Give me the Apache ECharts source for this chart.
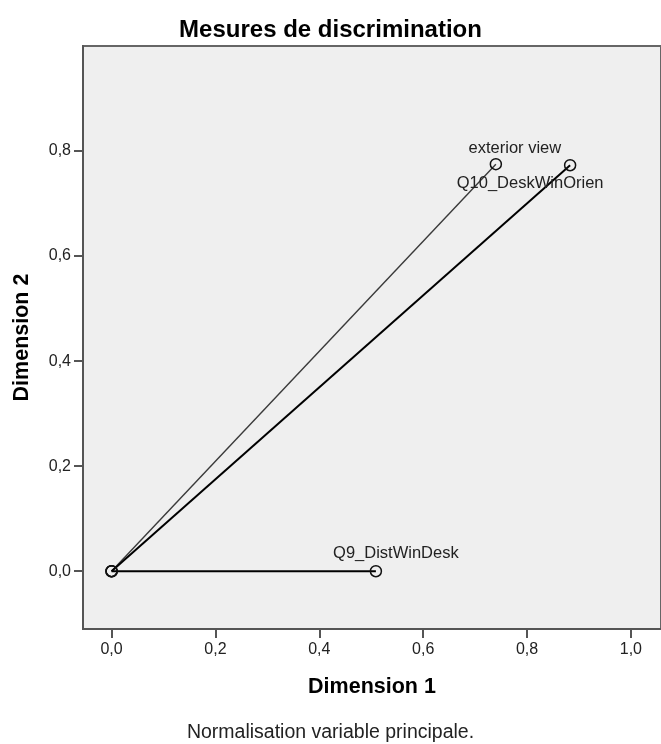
<!DOCTYPE html>
<html>
<head>
<meta charset="utf-8">
<script src="https://cdn.jsdelivr.net/npm/echarts@6/dist/echarts.min.js"></script>
<style>
html,body{margin:0;padding:0;background:#fff;}
#chart{width:661px;height:744px;}
</style>
</head>
<body>
<div id="chart"></div>
<script>
// Data
const variables = ['exterior view', 'Q10_DeskWinOrien', 'Q9_DistWinDesk'];
const dim1 = [0.740, 0.883, 0.509];
const dim2 = [0.775, 0.773, 0.000];
const xTicks = [0, 0.2, 0.4, 0.6, 0.8, 1.0];
const yTicks = [0, 0.2, 0.4, 0.6, 0.8];

// Styles (not data)
const lineWidths = [1.4, 2, 2];
const lineColors = ['#3a3a3a', '#000', '#000'];
const labelOffsets = [[19, -16], [-40, 18], [20, -18]];

const FONT = 'Liberation Sans, Arial, sans-serif';
const fmt = v => v.toFixed(1).replace('.', ',');

const series = variables.map((name, i) => ({
  type: 'line',
  name: name,
  symbol: 'circle',
  symbolSize: 11,
  showAllSymbol: true,
  itemStyle: { color: 'rgba(0,0,0,0)', borderColor: '#111', borderWidth: 1.5 },
  lineStyle: { color: lineColors[i], width: lineWidths[i] },
  emphasis: { disabled: true },
  z: 3 + i,
  data: [
    { value: [0, 0], label: { show: false } },
    {
      value: [dim1[i], dim2[i]],
      label: {
        show: true,
        formatter: name,
        position: 'inside',
        offset: labelOffsets[i],
        color: '#222',
        fontFamily: FONT,
        fontSize: 16.5
      }
    }
  ]
}));

const chart = echarts.init(document.getElementById('chart'), null, { renderer: 'canvas' });
chart.setOption({
  animation: false,
  backgroundColor: '#fff',
  title: [
    {
      text: 'Mesures de discrimination',
      left: 'center',
      top: 13,
      textStyle: { fontFamily: FONT, fontWeight: 'bold', fontSize: 24, color: '#000' }
    },
    {
      text: 'Normalisation variable principale.',
      left: 'center',
      top: 718,
      textStyle: { fontFamily: FONT, fontWeight: 'normal', fontSize: 19.5, color: '#222' }
    }
  ],
  grid: {
    left: 83, right: -4, top: 46, bottom: 115,
    show: true,
    backgroundColor: '#efefef',
    borderColor: '#666',
    borderWidth: 2
  },
  xAxis: {
    type: 'value',
    min: -0.055, max: 1.058,
    name: 'Dimension 1',
    nameLocation: 'middle',
    nameGap: 47,
    nameTextStyle: { fontFamily: FONT, fontWeight: 'bold', fontSize: 21.5, color: '#000' },
    splitLine: { show: false },
    axisLine: { show: true, onZero: false, lineStyle: { color: '#555', width: 2 } },
    axisTick: { show: true, length: 9, customValues: xTicks, lineStyle: { color: '#555', width: 2 } },
    axisLabel: { customValues: xTicks, formatter: fmt, margin: 13, color: '#222', fontFamily: FONT, fontSize: 16 }
  },
  yAxis: {
    type: 'value',
    min: -0.11, max: 1.0,
    name: 'Dimension 2',
    nameLocation: 'middle',
    nameGap: 50,
    nameRotate: 90,
    nameTextStyle: { fontFamily: FONT, fontWeight: 'bold', fontSize: 21.5, color: '#000' },
    splitLine: { show: false },
    axisLine: { show: true, onZero: false, lineStyle: { color: '#555', width: 2 } },
    axisTick: { show: true, length: 9, customValues: yTicks, lineStyle: { color: '#555', width: 2 } },
    axisLabel: { customValues: yTicks, formatter: fmt, margin: 12, color: '#222', fontFamily: FONT, fontSize: 16 }
  },
  series: series
});
</script>
</body>
</html>
